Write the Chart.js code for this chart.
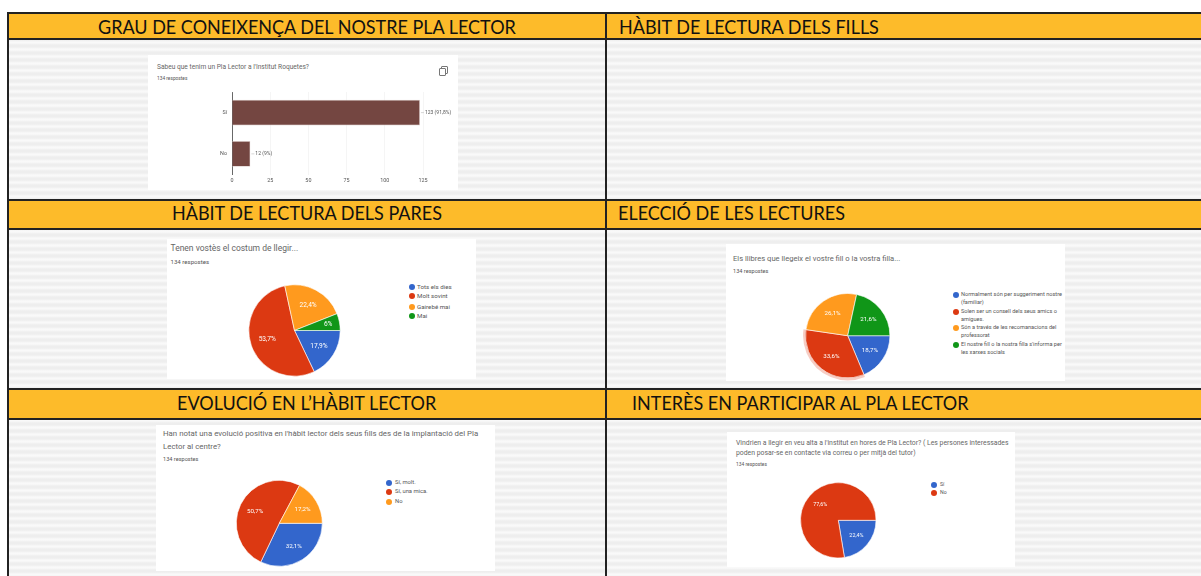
<!DOCTYPE html>
<html>
<head>
<meta charset="utf-8">
<script src="https://cdn.jsdelivr.net/npm/chart.js@4"></script>
<style>
  html, body { margin: 0; padding: 0; background: #fff; overflow: hidden; }
  #page { position: relative; width: 1201px; height: 576px; overflow: hidden; }
  .stripes { position: absolute; background: repeating-linear-gradient(#eeeeee 0, #eeeeee 2px, #f9f9f9 4px, #f9f9f9 5px, #eeeeee 7px); }
  .band { position: absolute; background: #fdbb2a; border-top: 2px solid #222; border-bottom: 2px solid #222; box-sizing: border-box;
          font: 20px Lato, sans-serif; color: #111; white-space: nowrap; }
  .band .txt { transform: scaleX(0.9); transform-origin: left center; }
  .rule { position: absolute; background: #222; }
  .card { position: absolute; background: #fff; filter: blur(0.6px); color: #444; font-family: Roboto, sans-serif; }
  .card canvas { position: absolute; left: 0; top: 0; }
  .txt { position: absolute; white-space: nowrap; line-height: 1; }
  .dot { position: absolute; border-radius: 50%; }
  .copy { position: absolute; width: 5px; height: 6px; border: 1px solid #777; border-radius: 1px; background: #fff; }
</style>
</head>
<body>
<div id="page"></div>
<script>
// Capçaleres
const capcaleres = [
  'GRAU DE CONEIXENÇA DEL NOSTRE PLA LECTOR',
  'HÀBIT DE LECTURA DELS FILLS',
  'HÀBIT DE LECTURA DELS PARES',
  'ELECCIÓ DE LES LECTURES',
  'EVOLUCIÓ EN L’HÀBIT LECTOR',
  'INTERÈS EN PARTICIPAR AL PLA LECTOR'
];

// Gràfic de barres
const barCategories = ['Sí', 'No'];
const barValues = [123, 12];
const barLabels = ['123 (91,8%)', '12 (9%)'];
const barTicks = [0, 25, 50, 75, 100, 125];

// Pastissos
const pareCategories = ['Tots els dies', 'Molt sovint', 'Gairebé mai', 'Mai'];
const pareValues = [17.9, 53.7, 22.4, 6];

const eleccioCategories = [
  ['Normalment són per suggeriment nostre', '(familiar)'],
  ['Solen ser un consell dels seus amics o', 'amigues.'],
  ['Són a través de les recomanacions del', 'professorat'],
  ['El nostre fill o la nostra filla s\'informa per', 'les xarxes socials']
];
const eleccioValues = [18.7, 33.6, 26.1, 21.6];

const evolucioCategories = ['Sí, molt.', 'Sí, una mica.', 'No'];
const evolucioValues = [32.1, 50.7, 17.2];

const interesCategories = ['Sí', 'No'];
const interesValues = [22.4, 77.6];

const colors = ['#3366cc', '#dc3912', '#ff9a1e', '#109618'];
const page = document.getElementById('page');

function addEl(parent, cls, css, text) {
  const el = document.createElement('div');
  el.className = cls;
  Object.assign(el.style, css);
  if (text !== undefined) el.textContent = text;
  parent.appendChild(el);
  return el;
}

// Fons ratllat i capçaleres
addEl(page, 'stripes', { left: '8px', top: '38px', width: '1193px', height: '538px' });
const files = [12, 199, 388];
const bandHeights = [28, 31, 32];
const textTop = [0, -2, -2];
const textLeft = [98, 619, 172, 618, 177, 632];
capcaleres.forEach((text, i) => {
  const fila = Math.floor(i / 2);
  const esq = i % 2 === 0;
  const band = addEl(page, 'band', {
    left: esq ? '7px' : '606px',
    width: esq ? '599px' : '595px',
    top: files[fila] + 'px',
    height: bandHeights[fila] + 'px'
  });
  addEl(band, 'txt', {
    left: (textLeft[i] - (esq ? 7 : 606)) + 'px',
    top: textTop[fila] + 'px',
    lineHeight: (bandHeights[fila] - 4) + 'px'
  }, text);
});
addEl(page, 'rule', { left: '7px', top: '12px', width: '2px', height: '564px' });
addEl(page, 'rule', { left: '605px', top: '12px', width: '2px', height: '564px' });

// Targeta amb títol, recompte i llegenda
function makeCard(box, title, resp, legend) {
  const card = addEl(page, 'card', {
    left: box.x + 'px', top: box.y + 'px', width: box.w + 'px', height: box.h + 'px'
  });
  title.lines.forEach((line, i) => {
    addEl(card, 'txt', {
      left: (title.x - box.x) + 'px',
      top: (title.ys[i] - box.y - title.size / 2) + 'px',
      fontSize: title.size + 'px', color: '#666'
    }, line);
  });
  addEl(card, 'txt', {
    left: (title.x - box.x) + 'px',
    top: (resp.y - box.y - resp.size / 2) + 'px',
    fontSize: resp.size + 'px', color: '#555'
  }, '134 respostes');
  if (legend) {
    legend.items.forEach((item, i) => {
      const lines = Array.isArray(item) ? item : [item];
      addEl(card, 'dot', {
        left: (legend.dotX - box.x - 3) + 'px',
        top: (legend.ys[i][0] - box.y - 3) + 'px',
        width: '6px', height: '6px', background: colors[i]
      });
      lines.forEach((line, j) => {
        addEl(card, 'txt', {
          left: (legend.textX - box.x) + 'px',
          top: (legend.ys[i][j] - box.y - legend.size / 2) + 'px',
          fontSize: legend.size + 'px', color: '#555'
        }, line);
      });
    });
  }
  const canvas = document.createElement('canvas');
  canvas.width = box.w;
  canvas.height = box.h;
  canvas.style.width = box.w + 'px';
  canvas.style.height = box.h + 'px';
  card.appendChild(canvas);
  return canvas;
}

// Percentatges en blanc sobre cada porció, i halo opcional
const pieLabels = {
  id: 'pieLabels',
  afterDatasetsDraw(chart, args, opts) {
    const { ctx } = chart;
    const arcs = chart.getDatasetMeta(0).data;
    const values = chart.data.datasets[0].data;
    ctx.save();
    arcs.forEach((arc, i) => {
      const mid = (arc.startAngle + arc.endAngle) / 2;
      const d = arc.outerRadius * (values[i] < 10 ? 0.75 : 0.63);
      ctx.fillStyle = '#fff';
      ctx.font = `${opts.size}px Roboto, sans-serif`;
      ctx.textAlign = 'center';
      ctx.textBaseline = 'middle';
      ctx.fillText(String(values[i]).replace('.', ',') + '%', arc.x + Math.cos(mid) * d, arc.y + Math.sin(mid) * d);
    });
    if (opts.halo !== undefined) {
      const arc = arcs[opts.halo];
      ctx.strokeStyle = 'rgba(220, 57, 18, 0.25)';
      ctx.lineWidth = 2.5;
      ctx.beginPath();
      ctx.arc(arc.x, arc.y, arc.outerRadius + 1.2, arc.startAngle, arc.endAngle);
      ctx.stroke();
    }
    ctx.restore();
  }
};

function makePie(canvas, box, values, cx, cy, r, size, halo) {
  new Chart(canvas, {
    type: 'pie',
    data: {
      labels: values.map((v, i) => i),
      datasets: [{ data: values, backgroundColor: colors.slice(0, values.length), borderColor: '#fff', borderWidth: 0.6 }]
    },
    options: {
      responsive: false,
      animation: false,
      rotation: 90,
      layout: { padding: { left: cx - r - box.x, right: box.x + box.w - cx - r, top: cy - r - box.y, bottom: box.y + box.h - cy - r } },
      plugins: { legend: { display: false }, tooltip: { enabled: false }, pieLabels: { size, halo } }
    },
    plugins: [pieLabels]
  });
}

// Barres
const barBox = { x: 148, y: 55, w: 310, h: 135 };
const barCanvas = makeCard(barBox,
  { x: 157, ys: [67], size: 6.6, lines: ['Sabeu que tenim un Pla Lector a l\'Institut Roquetes?'] },
  { y: 79, size: 4.8 }, null);

// Icona de copiar i marca de desplaçament
addEl(page, 'copy', { left: '441px', top: '66px' });
addEl(page, 'copy', { left: '439px', top: '68px' });
addEl(page, 'rule', { left: '1064px', top: '258px', width: '1px', height: '7px', background: '#888' });

const barValueLabels = {
  id: 'barValueLabels',
  afterDatasetsDraw(chart) {
    const { ctx } = chart;
    ctx.save();
    chart.getDatasetMeta(0).data.forEach((bar, i) => {
      ctx.strokeStyle = '#bbb';
      ctx.lineWidth = 0.6;
      ctx.beginPath();
      ctx.moveTo(bar.x + 1, bar.y);
      ctx.lineTo(bar.x + 4, bar.y);
      ctx.stroke();
      ctx.fillStyle = '#555';
      ctx.font = '5px Roboto, sans-serif';
      ctx.textBaseline = 'middle';
      ctx.fillText(barLabels[i], bar.x + 5, bar.y);
    });
    ctx.restore();
  }
};

new Chart(barCanvas, {
  type: 'bar',
  data: {
    labels: barCategories,
    datasets: [{ data: barValues, backgroundColor: '#744641', borderColor: '#d9c9c6', borderWidth: 0.6, barPercentage: 0.62, categoryPercentage: 1 }]
  },
  options: {
    responsive: false,
    animation: false,
    indexAxis: 'y',
    layout: { padding: { top: 37, right: 35, bottom: 3, left: 0 } },
    scales: {
      x: {
        min: 0, max: 125,
        afterBuildTicks(axis) { axis.ticks = barTicks.map(value => ({ value })); },
        grid: { color: '#eee', lineWidth: 0.6, drawTicks: false },
        border: { display: false },
        ticks: { font: { size: 5.4, family: 'Roboto' }, color: '#555', padding: 3, maxRotation: 0 }
      },
      y: {
        afterFit(axis) { axis.width = 84; },
        grid: { display: false, drawTicks: false },
        border: { color: '#444', width: 0.8 },
        ticks: { font: { size: 5.4, family: 'Roboto' }, color: '#555', padding: 5 }
      }
    },
    plugins: { legend: { display: false }, tooltip: { enabled: false } }
  },
  plugins: [barValueLabels]
});

// Hàbit de lectura dels pares
const pareBox = { x: 167, y: 239, w: 309, h: 140 };
makePie(makeCard(pareBox,
  { x: 170.5, ys: [248], size: 8.5, lines: ['Tenen vostès el costum de llegir...'] },
  { y: 262, size: 6.1 },
  { dotX: 411.7, textX: 417, size: 6.2, items: pareCategories, ys: [[286.7], [296.3], [306.7], [316]] }),
  pareBox, pareValues, 294.5, 330.5, 46, 6.6);

// Elecció de les lectures
const eleccioBox = { x: 726, y: 244, w: 339, h: 137 };
makePie(makeCard(eleccioBox,
  { x: 733, ys: [259], size: 7.6, lines: ['Els llibres que llegeix el vostre fill o la vostra filla...'] },
  { y: 272, size: 5.6 },
  { dotX: 956, textX: 961, size: 5.6, items: eleccioCategories, ys: [[295, 303], [312, 319.5], [328, 336], [345, 353]] }),
  eleccioBox, eleccioValues, 847.7, 335.7, 42.5, 6.2, 1);

// Evolució en l'hàbit lector
const evolucioBox = { x: 156, y: 425, w: 339, h: 146 };
makePie(makeCard(evolucioBox,
  { x: 163, ys: [434, 447], size: 7.85, lines: ['Han notat una evolució positiva en l\'hàbit lector dels seus fills des de la implantació del Pla', 'Lector al centre?'] },
  { y: 459.5, size: 5.6 },
  { dotX: 389, textX: 395, size: 5.8, items: evolucioCategories, ys: [[482.7], [491.7], [501.7]] }),
  evolucioBox, evolucioValues, 279.3, 523.3, 43.3, 6.2);

// Interès en participar
const interesBox = { x: 727, y: 432, w: 288, h: 135 };
makePie(makeCard(interesBox,
  { x: 736, ys: [443, 453], size: 6.85, lines: ['Vindrien a llegir en veu alta a l\'institut en hores de Pla Lector? ( Les persones interessades', 'poden posar-se en contacte via correu o per mitjà del tutor)'] },
  { y: 464.5, size: 4.9 },
  { dotX: 934, textX: 940, size: 5.2, items: interesCategories, ys: [[484.7], [492.7]] }),
  interesBox, interesValues, 838.3, 520.3, 38, 5.4);
</script>
</body>
</html>
